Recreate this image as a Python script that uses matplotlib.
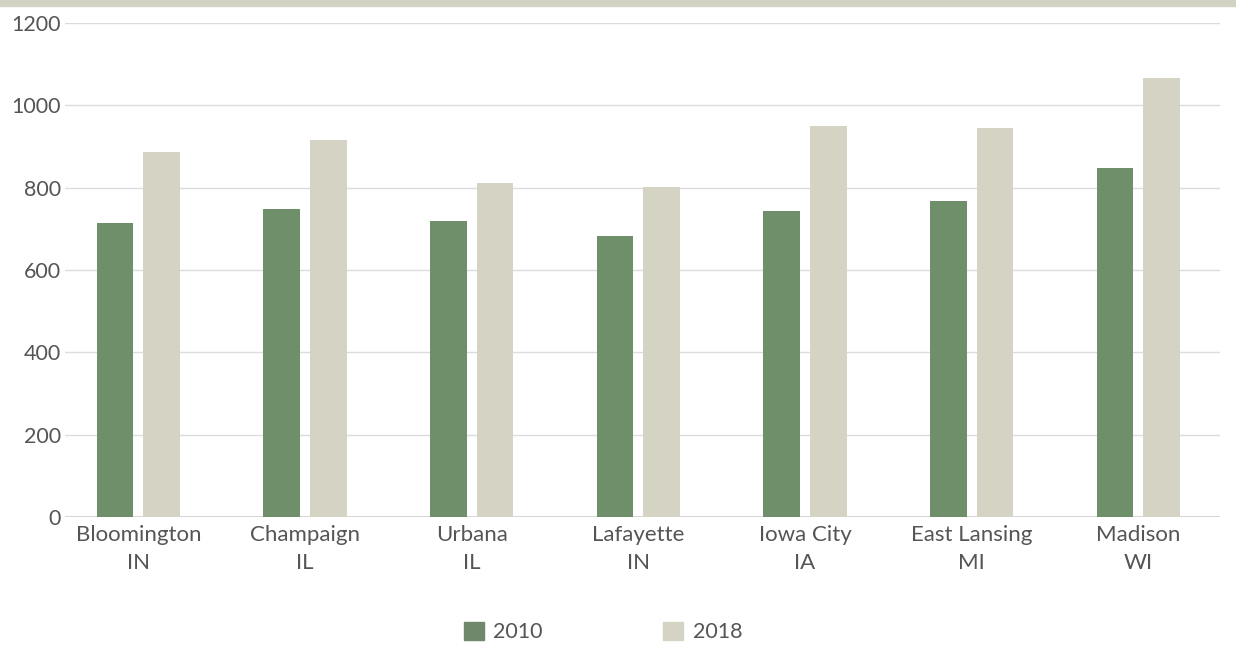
import matplotlib.pyplot as plt
import matplotlib.patches as mpatches
import numpy as np

plt.rcParams['font.family'] = ['Lato', 'DejaVu Sans']

cities = ['Bloomington\nIN', 'Champaign\nIL', 'Urbana\nIL', 'Lafayette\nIN',
          'Iowa City\nIA', 'East Lansing\nMI', 'Madison\nWI']
y2010 = [713, 748, 718, 682, 743, 767, 847]
y2018 = [886, 917, 811, 801, 951, 944, 1066]
yticks = [0, 200, 400, 600, 800, 1000, 1200]

green = '#6f8f6a'
beige = '#d5d3c4'
txt = '#555555'

fig = plt.figure(figsize=(12.36, 6.48), dpi=100)
ax = fig.add_axes([65 / 1236, 1 - 517 / 648, 1155 / 1236, 494 / 648])

x = np.arange(len(cities))
ax.bar(x - 0.14, y2010, width=0.22, color=green, zorder=2)
ax.bar(x + 0.14, y2018, width=0.22, color=beige, zorder=2)

ax.set_xlim(-0.44, 6.49)
ax.set_ylim(0, 1200)
ax.set_yticks(yticks)
ax.set_yticklabels([str(v) for v in yticks])
ax.set_xticks(x)
ax.set_xticklabels(cities)
ax.grid(axis='y', color='#dcdcdc', linewidth=1, zorder=0)
ax.axhline(0, color='#cfcfcf', linewidth=1.2, zorder=1)
for s in ax.spines.values():
    s.set_visible(False)
ax.tick_params(axis='both', length=0, colors=txt)
ax.tick_params(axis='y', pad=3, labelsize=15.5)
ax.tick_params(axis='x', pad=6, labelsize=16)
for lab in ax.get_xticklabels():
    lab.set_linespacing(1.45)

# thin band along the top edge
fig.patches.append(mpatches.Rectangle((0, 1 - 6 / 648), 1, 6 / 648,
                                      transform=fig.transFigure,
                                      color='#d3d3c3', zorder=5))

handles = [mpatches.Patch(color='#6f876b', label='2010'),
           mpatches.Patch(color=beige, label='2018')]
fig.legend(handles=handles, loc='center', bbox_to_anchor=(0.488, 1 - 632 / 648),
           ncol=2, frameon=False, fontsize=15.5, handlelength=0.9,
           handleheight=0.9, handletextpad=0.45, columnspacing=5.6,
           labelcolor=txt)

fig.savefig('out.png', dpi=100)
